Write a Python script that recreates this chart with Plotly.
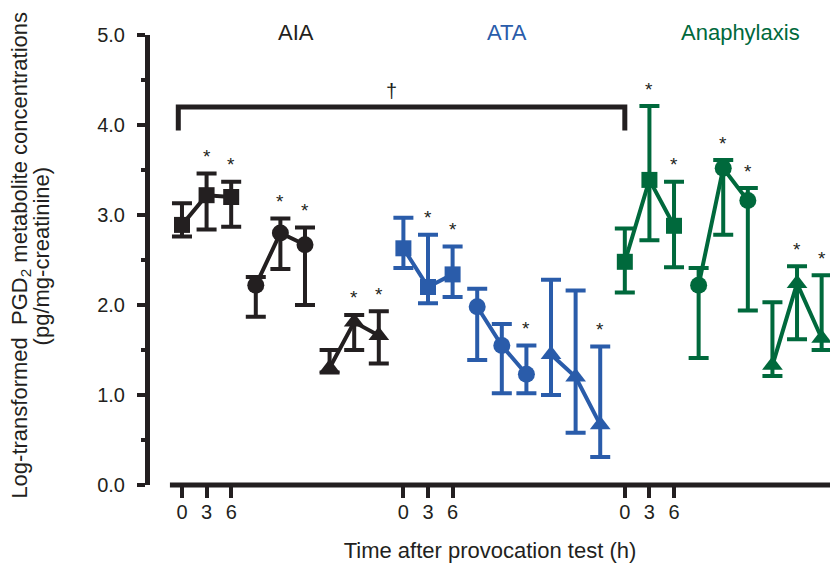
import plotly.graph_objects as go

# ---------------- data ----------------
groups = ["AIA", "ATA", "Anaphylaxis"]
group_colors = ["#231f20", "#2a5caa", "#00693c"]
subgroups = ["square", "circle", "triangle-up"]
time_labels = ["0", "3", "6"]

# mean values per group -> subgroup -> time (0, 3, 6 h)
aia_mean = [[2.89, 3.22, 3.20], [2.22, 2.80, 2.67], [1.30, 1.81, 1.66]]
aia_upper = [[3.13, 3.46, 3.37], [2.31, 2.96, 2.86], [1.50, 1.89, 1.93]]
aia_lower = [[2.76, 2.84, 2.87], [1.87, 2.40, 2.00], [1.25, 1.50, 1.35]]
aia_star = [[0, 1, 1], [0, 1, 1], [0, 1, 1]]

ata_mean = [[2.63, 2.20, 2.34], [1.98, 1.55, 1.23], [1.45, 1.20, 0.67]]
ata_upper = [[2.97, 2.78, 2.65], [2.18, 1.79, 1.55], [2.28, 2.16, 1.54]]
ata_lower = [[2.41, 2.02, 2.09], [1.39, 1.02, 1.02], [1.00, 0.58, 0.31]]
ata_star = [[0, 1, 1], [0, 0, 1], [0, 0, 1]]

ana_mean = [[2.48, 3.39, 2.88], [2.22, 3.52, 3.16], [1.33, 2.24, 1.63]]
ana_upper = [[2.85, 4.21, 3.37], [2.41, 3.61, 3.30], [2.03, 2.43, 2.33]]
ana_lower = [[2.14, 2.72, 2.42], [1.41, 2.78, 1.94], [1.21, 1.62, 1.50]]
ana_star = [[0, 1, 1], [0, 1, 1], [0, 1, 1]]

means = [aia_mean, ata_mean, ana_mean]
uppers = [aia_upper, ata_upper, ana_upper]
lowers = [aia_lower, ata_lower, ana_lower]
stars = [aia_star, ata_star, ana_star]

# label positions (in x index units) of the group titles and dagger bracket
group_label_x = [4.65, 13.2, 22.7]
bracket_from_to = [0, 18]
bracket_y = [4.2, 3.94]
dagger_x = 8.5

y_label_lines = ["Log-transformed  PGD<sub>2</sub> metabolite concentrations",
                 "(pg/mg-creatinine)"]

# ---------------- figure ----------------
fig = go.Figure()
font_family = "Liberation Sans, Arial, Helvetica, sans-serif"
ink = "#231f20"

for g in range(3):
    col = group_colors[g]
    for s in range(3):
        base = g * 9 + s * 3
        xs = [base + t for t in range(3)]
        ys = means[g][s]
        up = [uppers[g][s][t] - ys[t] for t in range(3)]
        dn = [ys[t] - lowers[g][s][t] for t in range(3)]
        size = {"square": 16, "circle": 17, "triangle-up": 18}[subgroups[s]]
        fig.add_trace(go.Scatter(
            x=xs, y=ys, mode="lines+markers",
            line=dict(color=col, width=4),
            marker=dict(symbol=subgroups[s], size=size, color=col, line=dict(width=0)),
            error_y=dict(type="data", symmetric=False, array=up, arrayminus=dn,
                         color=col, thickness=4, width=10),
            showlegend=False, hoverinfo="skip",
        ))
        for t in range(3):
            if stars[g][s][t]:
                fig.add_annotation(x=xs[t], y=uppers[g][s][t], text="*",
                                   showarrow=False, yanchor="middle", yshift=17,
                                   font=dict(size=19, color=ink, family=font_family))

# group titles
for g in range(3):
    fig.add_annotation(x=group_label_x[g], y=1.005, xref="x", yref="paper",
                       text=groups[g], showarrow=False, yanchor="middle",
                       font=dict(size=22, color=group_colors[g], family=font_family))

# dagger bracket
x0, x1 = bracket_from_to
fig.add_shape(type="path",
              path=f"M {x0-0.15} {bracket_y[1]} L {x0-0.15} {bracket_y[0]} L {x1} {bracket_y[0]} L {x1} {bracket_y[1]}",
              xref="x", yref="y", line=dict(color=ink, width=5))
fig.add_annotation(x=dagger_x, y=bracket_y[0], text="†", showarrow=False,
                   yanchor="bottom", yshift=3,
                   font=dict(size=20, color=ink, family=font_family))

# x axis line (separate from y axis)
fig.add_shape(type="line", x0=-0.49, x1=26.4, y0=0, y1=0, xref="x", yref="paper",
              line=dict(color=ink, width=5))

tickvals = [g * 9 + t for g in range(3) for t in range(3)]
ticktext = [time_labels[t] for g in range(3) for t in range(3)]

fig.update_layout(
    width=830, height=569,
    margin=dict(l=150, r=0, t=35, b=84),
    plot_bgcolor="white", paper_bgcolor="white",
    font=dict(family=font_family, color=ink),
    xaxis=dict(range=[-1.30, 26.34], tickvals=tickvals, ticktext=ticktext,
               ticks="outside", ticklen=12, tickwidth=4, tickcolor=ink,
               showline=False, showgrid=False, zeroline=False,
               ticklabelstandoff=-3,
               tickfont=dict(size=20, color=ink),
               title=dict(text="Time after provocation test (h)",
                          font=dict(size=22, color=ink), standoff=20)),
    yaxis=dict(range=[0, 5], tickvals=[0, 1, 2, 3, 4, 5], tickformat=".1f",
               ticks="outside", ticklen=8, tickwidth=4, tickcolor=ink,
               showline=True, linewidth=5, linecolor=ink,
               showgrid=False, zeroline=False, ticklabelstandoff=8,
               tickfont=dict(size=20, color=ink),
               minor=dict(dtick=0.5, ticks="outside", ticklen=4, tickwidth=4,
                          tickcolor=ink, showgrid=False)),
)

for i, xp in enumerate([-0.191, -0.159]):
    fig.add_annotation(x=xp, y=0.51, xref="paper", yref="paper",
                       text=y_label_lines[i],
                       textangle=-90, showarrow=False, xanchor="center", yanchor="middle",
                       font=dict(size=22, color=ink, family=font_family))

fig.write_html("out.html")
